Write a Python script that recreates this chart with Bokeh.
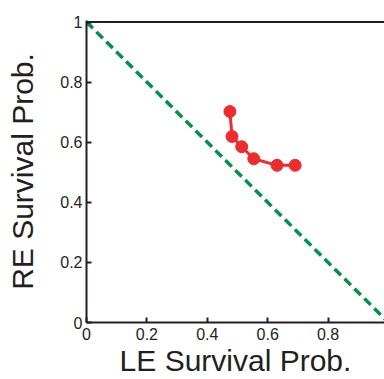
from bokeh.plotting import figure
from bokeh.models import Range1d, FixedTicker, CustomJSTickFormatter, Span
from bokeh.embed import file_html
from bokeh.resources import INLINE

# data
le_prob = [0.475, 0.482, 0.514, 0.554, 0.631, 0.691]
re_prob = [0.702, 0.619, 0.585, 0.545, 0.523, 0.523]
diag_x = [0.0, 1.0]
diag_y = [1.0, 0.0]
tick_values = [0, 0.2, 0.4, 0.6, 0.8, 1]

TXT = "#231f20"
FONT = "Liberation Sans"

p = figure(width=384, height=379, output_backend="svg", toolbar_location=None,
           x_range=Range1d(0, 0.987), y_range=Range1d(0, 1.005),
           min_border_left=86, min_border_top=20, min_border_bottom=57, min_border_right=0)
p.outline_line_color = None
p.grid.visible = False
p.background_fill_color = "white"
p.border_fill_color = "white"

fmt = CustomJSTickFormatter(code="return String(Math.round(tick*10)/10);")

def style(ax):
    ax.ticker = FixedTicker(ticks=tick_values)
    ax.formatter = fmt
    ax.axis_line_color = TXT
    ax.axis_line_width = 2
    ax.major_tick_line_color = TXT
    ax.major_tick_line_width = 2
    ax.major_tick_in = 5
    ax.major_tick_out = 0
    ax.minor_tick_line_color = None
    ax.major_label_text_font = FONT
    ax.major_label_text_color = TXT
    ax.major_label_text_font_size = "16px"
    ax.axis_label_text_font = FONT
    ax.axis_label_text_font_style = "normal"
    ax.axis_label_text_color = TXT
    ax.axis_label_text_font_size = "30px"

style(p.xaxis[0])
style(p.yaxis[0])
p.xaxis[0].axis_label = "LE Survival Prob."
p.yaxis[0].axis_label = "RE Survival Prob."
p.xaxis[0].major_label_standoff = 5
p.xaxis[0].axis_label_standoff = 1
p.yaxis[0].major_label_standoff = 4
p.yaxis[0].axis_label_standoff = 18

p.add_layout(Span(location=1, dimension="width", line_color=TXT, line_width=2))

p.line(diag_x, diag_y, line_color="#00914a", line_width=3.5, line_dash="9 5")
p.line(le_prob, re_prob, line_color="#ee2b2f", line_width=3)
p.scatter(le_prob, re_prob, size=12, fill_color="#ee2b2f", line_color="#ee2b2f")

open("out.html", "w").write(file_html(p, INLINE))
